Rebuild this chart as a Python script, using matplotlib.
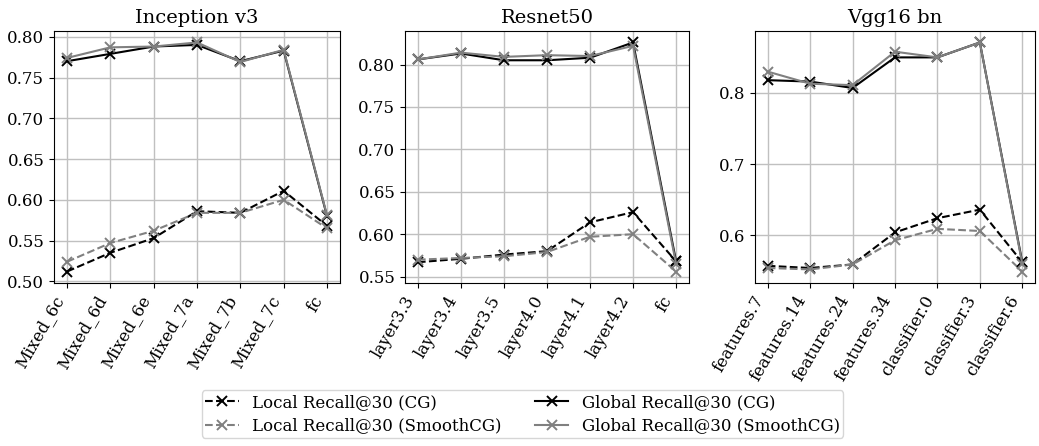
import numpy as np
import matplotlib.pyplot as plt

plt.rcParams['font.family'] = 'DejaVu Serif'
plt.rcParams['font.size'] = 12

titles = ['Inception v3', 'Resnet50', 'Vgg16 bn']

layers_inc = ['Mixed_6c', 'Mixed_6d', 'Mixed_6e', 'Mixed_7a', 'Mixed_7b', 'Mixed_7c', 'fc']
layers_res = ['layer3.3', 'layer3.4', 'layer3.5', 'layer4.0', 'layer4.1', 'layer4.2', 'fc']
layers_vgg = ['features.7', 'features.14', 'features.24', 'features.34',
              'classifier.0', 'classifier.3', 'classifier.6']

# Inception v3
inc_local_cg = [0.512, 0.535, 0.553, 0.586, 0.584, 0.611, 0.568]
inc_local_smooth = [0.524, 0.547, 0.562, 0.584, 0.584, 0.600, 0.565]
inc_global_cg = [0.770, 0.779, 0.788, 0.790, 0.770, 0.783, 0.580]
inc_global_smooth = [0.774, 0.787, 0.788, 0.793, 0.769, 0.784, 0.581]

# Resnet50
res_local_cg = [0.567, 0.571, 0.576, 0.580, 0.614, 0.626, 0.568]
res_local_smooth = [0.570, 0.572, 0.574, 0.579, 0.597, 0.600, 0.556]
res_global_cg = [0.806, 0.813, 0.805, 0.805, 0.808, 0.826, 0.568]
res_global_smooth = [0.806, 0.814, 0.809, 0.811, 0.810, 0.822, 0.565]

# Vgg16 bn
vgg_local_cg = [0.557, 0.554, 0.559, 0.604, 0.624, 0.636, 0.562]
vgg_local_smooth = [0.554, 0.552, 0.559, 0.593, 0.609, 0.606, 0.549]
vgg_global_cg = [0.818, 0.816, 0.807, 0.850, 0.850, 0.871, 0.562]
vgg_global_smooth = [0.830, 0.813, 0.811, 0.858, 0.850, 0.871, 0.560]

data = [
    (layers_inc, inc_local_cg, inc_local_smooth, inc_global_cg, inc_global_smooth),
    (layers_res, res_local_cg, res_local_smooth, res_global_cg, res_global_smooth),
    (layers_vgg, vgg_local_cg, vgg_local_smooth, vgg_global_cg, vgg_global_smooth),
]

fig = plt.figure(figsize=(10.39, 4.46), dpi=100)
W, H = 1039, 446
boxes = [(54, 340), (405, 689), (755, 1035)]
bottom, top = 283, 31

for i, (labels, lcg, lsm, gcg, gsm) in enumerate(data):
    l, r = boxes[i]
    ax = fig.add_axes([l / W, 1 - bottom / H, (r - l) / W, (bottom - top) / H])
    x = np.arange(len(labels))
    kw = dict(marker='x', markersize=7.5, markeredgewidth=1.4, linewidth=1.5)
    ax.plot(x, lcg, '--', color='black', label='Local Recall@30 (CG)', **kw)
    ax.plot(x, lsm, '--', color='grey', label='Local Recall@30 (SmoothCG)', **kw)
    ax.plot(x, gcg, '-', color='black', label='Global Recall@30 (CG)', **kw)
    ax.plot(x, gsm, '-', color='grey', label='Global Recall@30 (SmoothCG)', **kw)
    ax.set_xticks(x)
    ax.set_xticklabels(labels, rotation=60, ha='right')
    ax.set_title(titles[i], fontsize=14)
    ax.grid(True, color='#c0c0c0', linewidth=1)
    ax.set_axisbelow(True)
    if i == 2:
        ax.set_yticks([0.6, 0.7, 0.8])

handles, labs = ax.get_legend_handles_labels()
fig.legend(handles, labs, loc='lower center', ncol=2,
           bbox_to_anchor=(0.503, 0.0), frameon=True, fontsize=12,
           borderpad=0.2, labelspacing=0.4)

fig.savefig('out.png', dpi=100)
